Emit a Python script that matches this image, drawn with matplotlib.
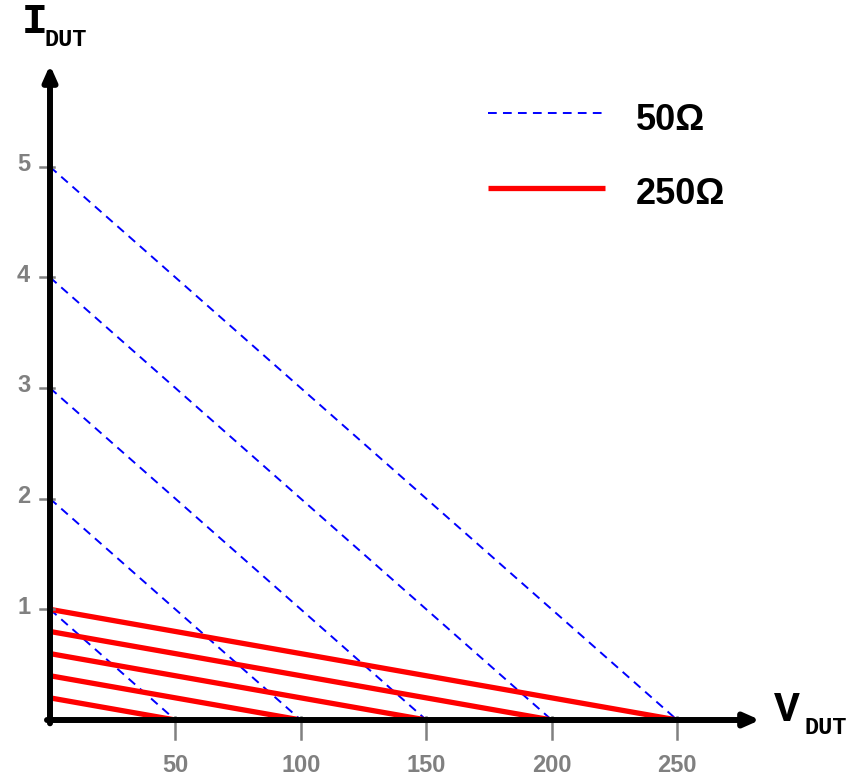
import matplotlib
matplotlib.use("Agg")
import matplotlib.pyplot as plt
from matplotlib.lines import Line2D

# Load lines: open-circuit voltage (V) and short-circuit current (A)
v_open = [50, 100, 150, 200, 250]
i_short_50 = [1, 2, 3, 4, 5]             # 50 ohm source
i_short_250 = [0.2, 0.4, 0.6, 0.8, 1.0]  # 250 ohm source

x_ticks = [50, 100, 150, 200, 250]
y_ticks = [1, 2, 3, 4, 5]
legend_labels = ["50Ω", "250Ω"]

W, H, DPI = 858, 777, 100
fig = plt.figure(figsize=(W / DPI, H / DPI), dpi=DPI)

# origin at pixel (50, 720); arrow tips at x=760, y=65
x0, y0 = 50, 720
xmax, ymax = 283, 5.92
ax = fig.add_axes([x0 / W, (H - y0) / H, (760 - x0) / W, (y0 - 65) / H])
ax.set_xlim(0, xmax)
ax.set_ylim(0, ymax)
for s in ax.spines.values():
    s.set_visible(False)
ax.set_xticks([])
ax.set_yticks([])

grey = "#808080"
tick_font = dict(family="Liberation Sans", weight="bold", size=17, color=grey)

blue_style = dict(color="#0000ff", lw=1.4, dashes=(4.5, 3.2))
red_style = dict(color="#ff0000", lw=3.8, solid_capstyle="butt")

# load lines
for v, i in zip(v_open, i_short_50):
    ax.plot([0, v], [i, 0], zorder=3, **blue_style)
for v, i in zip(v_open, i_short_250):
    ax.plot([0, v], [i, 0], zorder=4, **red_style)

# ticks crossing the axes
for t in x_ticks:
    ax.plot([t, t], [-0.17, 0.03], color=grey, lw=1.8, clip_on=False, zorder=5)
    ax.text(t, -0.41, str(t), ha="center", va="center", **tick_font)
for t in y_ticks:
    ax.plot([-4, 1.5], [t, t], color=grey, lw=1.8, clip_on=False, zorder=5)
    ax.text(-10.5, t + 0.02, str(t), ha="center", va="center", **tick_font)

# axes with arrows
arrow = dict(arrowstyle="-|>,head_length=0.9,head_width=0.4", color="black",
             lw=4.3, shrinkA=0, shrinkB=0)
ax.annotate("", xy=(0, ymax), xytext=(0, -0.03), arrowprops=arrow,
            annotation_clip=False, zorder=6)
ax.annotate("", xy=(xmax, 0), xytext=(-1.2, 0), arrowprops=arrow,
            annotation_clip=False, zorder=6)

# axis labels
mono = dict(family="Liberation Mono", weight="bold", color="black")
fig.text(22 / W, 1 - 22 / H, "I", ha="left", va="center", size=31, **mono)
fig.text(45 / W, 1 - 40 / H, "DUT", ha="left", va="center", size=17, **mono)
fig.text(774 / W, 1 - 710 / H, "V", ha="left", va="center", size=31, **mono)
fig.text(804 / W, 1 - 727 / H, "DUT", ha="left", va="center", size=17, **mono)

# legend keys and labels
leg_font = dict(family="Liberation Sans", weight="bold", size=26, color="black")
for y_line, y_text, style, lab in [(113, 121, blue_style, legend_labels[0]),
                                   (188, 195, red_style, legend_labels[1])]:
    fig.add_artist(Line2D([488 / W, 605 / W], [1 - y_line / H] * 2,
                          transform=fig.transFigure, **style))
    fig.text(636 / W, 1 - y_text / H, lab, ha="left", va="center", **leg_font)

fig.savefig("out.png", dpi=DPI)
